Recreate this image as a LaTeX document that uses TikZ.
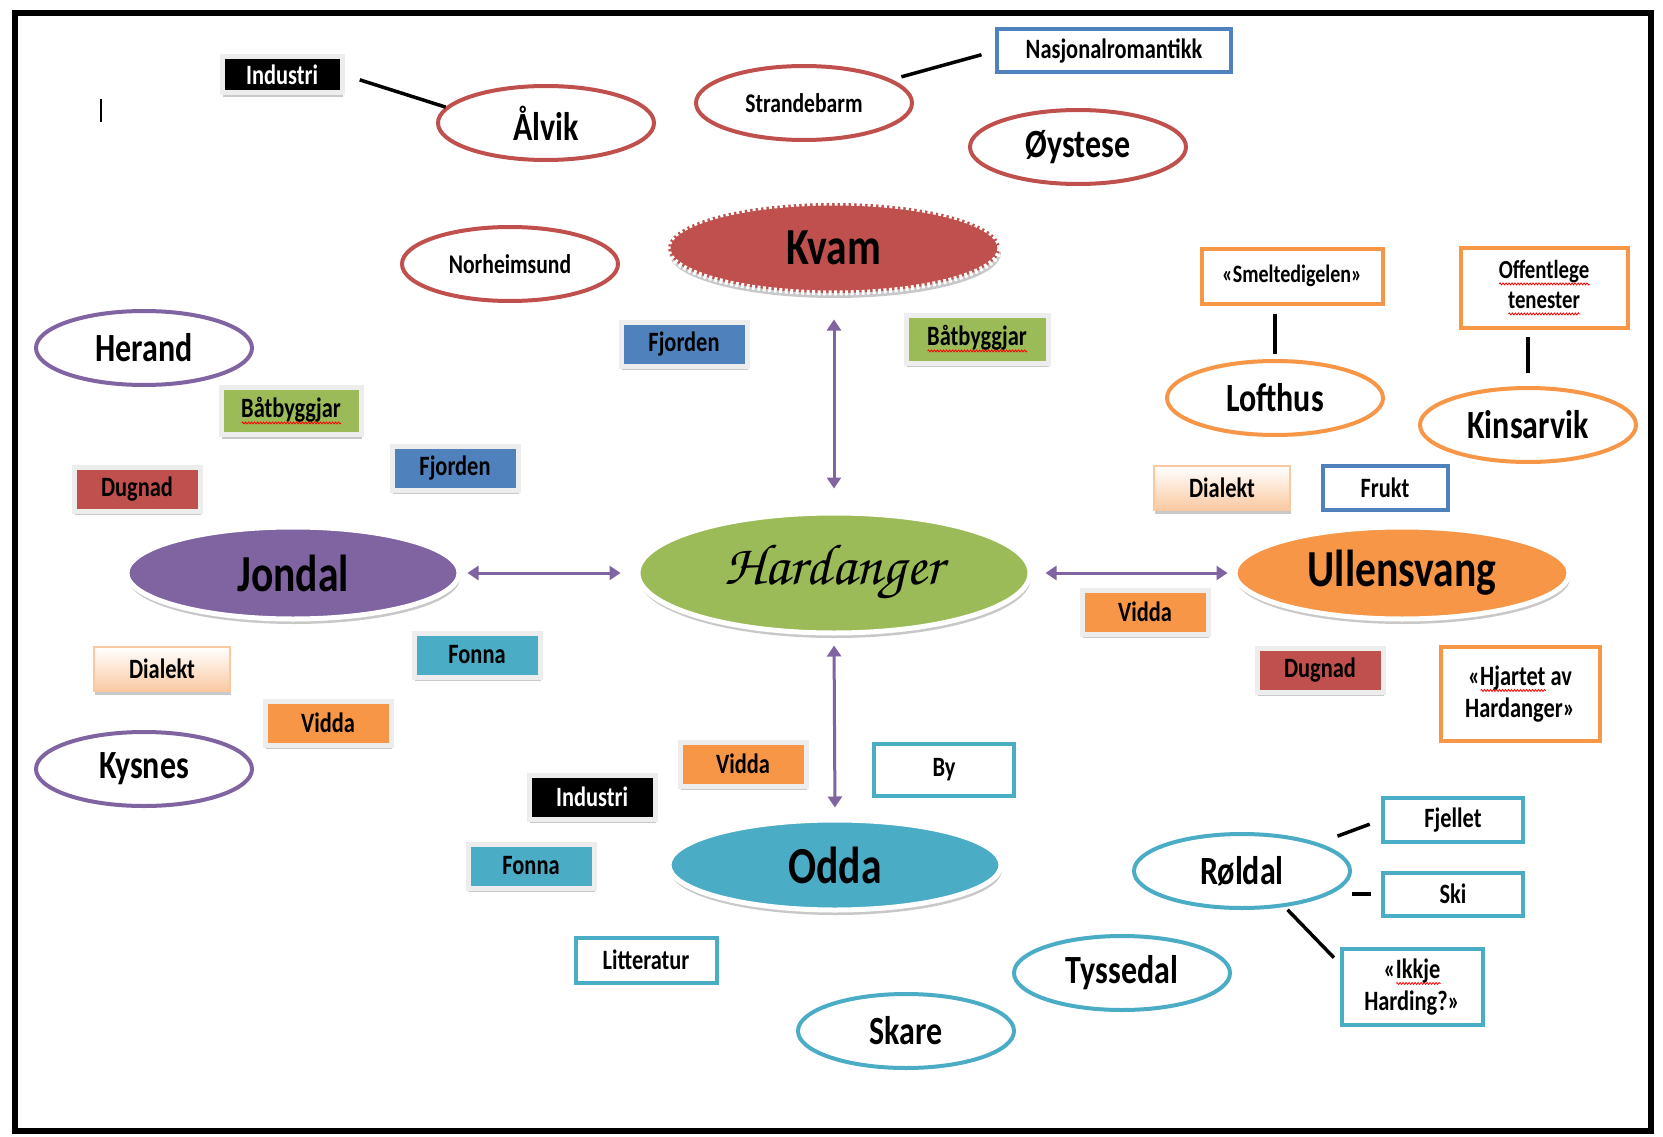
\documentclass[tikz,border=0pt]{standalone}
\usepackage[T1,TU]{fontenc}
\usepackage{fontspec}
\setmainfont{Carlito}[FakeStretch=0.8]
\usetikzlibrary{shapes.geometric,shadows,arrows.meta,decorations.pathmorphing}

\definecolor{kvamred}{HTML}{C0504D}
\definecolor{fjordblue}{HTML}{4F81BD}
\definecolor{grasgreen}{HTML}{9BBB59}
\definecolor{lilla}{HTML}{8064A2}
\definecolor{isblue}{HTML}{4BACC6}
\definecolor{appelsin}{HTML}{F79646}
\definecolor{fersken}{HTML}{FAC9A1}

\newcommand\chancery{\fontencoding{T1}\fontfamily{pzc}\fontseries{mb}\fontshape{it}\selectfont}
\newsavebox\wavybox
\newcommand\wavy[1]{\sbox\wavybox{#1}%
  \rlap{\tikz[baseline=0pt]\draw[red,line width=.8pt,decorate,
    decoration={snake,amplitude=1pt,segment length=3pt}] (0pt,-5pt) -- (\wd\wavybox,-5pt);}%
  \usebox\wavybox}

\begin{document}
\begin{tikzpicture}[x=1pt,y=-1pt,
  hub/.style={ellipse,draw=white,line width=5pt,inner sep=0pt,
    drop shadow={shadow xshift=1pt,shadow yshift=-5pt,fill=black!30,opacity=.7},
    font=\fontsize{52}{60}\selectfont\bfseries},
  place/.style={ellipse,fill=white,line width=4pt,inner sep=0pt,
    minimum width=216pt,minimum height=74pt,font=\fontsize{40}{48}\selectfont\bfseries},
  tag/.style={rectangle,draw=black!7,line width=5pt,inner sep=0pt,
    minimum width=126pt,minimum height=44pt,
    drop shadow={shadow xshift=1pt,shadow yshift=-4pt,fill=black!35,opacity=.6},
    font=\fontsize{28}{32}\selectfont\bfseries},
  note/.style={rectangle,fill=white,line width=4pt,inner sep=0pt,align=center,
    font=\fontsize{28}{32}\selectfont\bfseries},
  link/.style={line width=3.5pt},
  twoway/.style={lilla,line width=3pt,
    {Triangle[width=14pt,length=11pt]}-{Triangle[width=14pt,length=11pt]}},
]
\useasboundingbox (0,0) rectangle (1663,1137);
\fill[white] (0,0) rectangle (1663,1137);
\draw[line width=6pt] (15,13) rectangle (1651,1131);
\draw[line width=2pt] (101,99) -- (101,122);

        \begin{scope}[every node/.append style={hub}]
          \node[fill=kvamred,dash pattern=on 3pt off 2.5pt,minimum width=332pt,minimum height=90pt] (7) at (834,248) {Kvam};
          \node[fill=lilla,minimum width=332pt,minimum height=92pt] (14) at (293,573) {Jondal};
          \node[fill=grasgreen,minimum width=392pt,minimum height=120pt] (15) at (834,573) {\fontsize{58}{60}\chancery Hardanger};
          \node[fill=appelsin,minimum width=334pt,minimum height=92pt] (16) at (1402,573) {Ullensvang};
          \node[fill=isblue,minimum width=332pt,minimum height=90pt] (34) at (835,865) {Odda};
        \end{scope}

        \begin{scope}[every node/.append style={place}]
          \node[draw=kvamred] (2) at (546,123) {Ålvik};
          \node[draw=kvamred,font=\fontsize{27}{32}\selectfont\bfseries] (3) at (804,103) {Strandebarm};
          \node[draw=kvamred] (5) at (1078,147) {Øystese};
          \node[draw=kvamred,font=\fontsize{27}{32}\selectfont\bfseries] (6) at (510,264) {Norheimsund};
          \node[draw=lilla] (10) at (144,348) {Herand};
          \node[draw=lilla] (29) at (144,769) {Kysnes};
          \node[draw=appelsin] (18) at (1275,398) {Lofthus};
          \node[draw=appelsin] (20) at (1528,425) {Kinsarvik};
          \node[draw=isblue] (38) at (1242,871) {Røldal};
          \node[draw=isblue] (37) at (1122,973) {Tyssedal};
          \node[draw=isblue] (36) at (906,1031) {Skare};
        \end{scope}

        \begin{scope}[every node/.append style={tag}]
          \node[fill=black,text=white,minimum width=120pt,minimum height=36pt] (1) at (282,75) {Industri};
          \node[fill=fjordblue] (8) at (684,344) {Fjorden};
          \node[fill=grasgreen,minimum width=142pt,minimum height=48pt] (9) at (977,339) {\wavy{Båtbyggjar}};
          \node[fill=grasgreen,minimum width=140pt,minimum height=47pt] (11) at (291,411) {\wavy{Båtbyggjar}};
          \node[fill=fjordblue] (12) at (455,468) {Fjorden};
          \node[fill=kvamred] (13) at (137,489) {Dugnad};
          \node[draw=fersken,line width=1.5pt,top color=white,bottom color=fersken,minimum width=136pt] (26) at (162,669) {Dialekt};
          \node[fill=isblue] (27) at (477,655) {Fonna};
          \node[fill=appelsin] (28) at (328,723) {Vidda};
          \node[fill=appelsin] (30) at (743,764) {Vidda};
          \node[fill=black,text=white] (31) at (592,797) {Industri};
          \node[fill=isblue] (33) at (531,866) {Fonna};
          \node[draw=fersken,line width=1.5pt,top color=white,bottom color=fersken,minimum width=136pt] (21) at (1222,488) {Dialekt};
          \node[fill=appelsin] (23) at (1145,612) {Vidda};
          \node[fill=kvamred] (24) at (1320,670) {Dugnad};
        \end{scope}

        \begin{scope}[every node/.append style={note}]
          \node[draw=fjordblue,minimum width=234pt,minimum height=43pt] (4) at (1114,51) {Nasjonalromantikk};
          \node[draw=appelsin,minimum width=181pt,minimum height=55pt,font=\fontsize{25}{30}\selectfont\bfseries] (17) at (1292,276) {«Smeltedigelen»};
          \node[draw=appelsin,minimum width=167pt,minimum height=80pt,font=\fontsize{26}{30}\selectfont\bfseries] (19) at (1544,288) {\wavy{Offentlege}\\\wavy{tenester}};
          \node[draw=fjordblue,minimum width=125pt,minimum height=44pt] (22) at (1385,488) {Frukt};
          \node[draw=appelsin,minimum width=159pt,minimum height=94pt] (25) at (1520,694) {«\wavy{Hjartet} av\\Hardanger»};
          \node[draw=isblue,minimum width=140pt,minimum height=52pt] (32) at (944,770) {By};
          \node[draw=isblue,minimum width=141pt,minimum height=45pt] (35) at (646,960) {Litteratur};
          \node[draw=isblue,minimum width=140pt,minimum height=44pt] (39) at (1453,820) {Fjellet};
          \node[draw=isblue,minimum width=140pt,minimum height=43pt] (40) at (1453,894) {Ski};
          \node[draw=isblue,minimum width=141pt,minimum height=76pt] (41) at (1412,987) {«\wavy{Ikkje}\\Harding?»};
        \end{scope}

        \path (1.east) edge[link,shorten <=16pt] (2.171);
        \path (3.15) edge[link,shorten <=10pt,shorten >=14pt] (4.west);
        \path (17.south -| 18.north) edge[link,shorten <=8pt,shorten >=5pt] (18.north);
        \path (19.south -| 20.north) edge[link,shorten <=7pt,shorten >=13pt] (20.north);
        \path (38.20) edge[link,shorten <=20pt,shorten >=12pt] (39.west);
        \path (38.east |- 40.west) edge[link,shorten >=10pt] (40.west);
        \path (38.-40) edge[link,shorten <=4pt,shorten >=8pt] (41.162);

        \path (7.south) edge[twoway,shorten <=24pt,shorten >=22pt] (15.north);
        \path (14.east) edge[twoway,shorten <=6pt,shorten >=15pt] (15.west);
        \path (15.east) edge[twoway,shorten <=13pt,shorten >=5pt] (16.west);
        \path (15.south) edge[twoway,shorten <=10pt,shorten >=10pt] (34.north);

      \end{tikzpicture}
\end{document}
